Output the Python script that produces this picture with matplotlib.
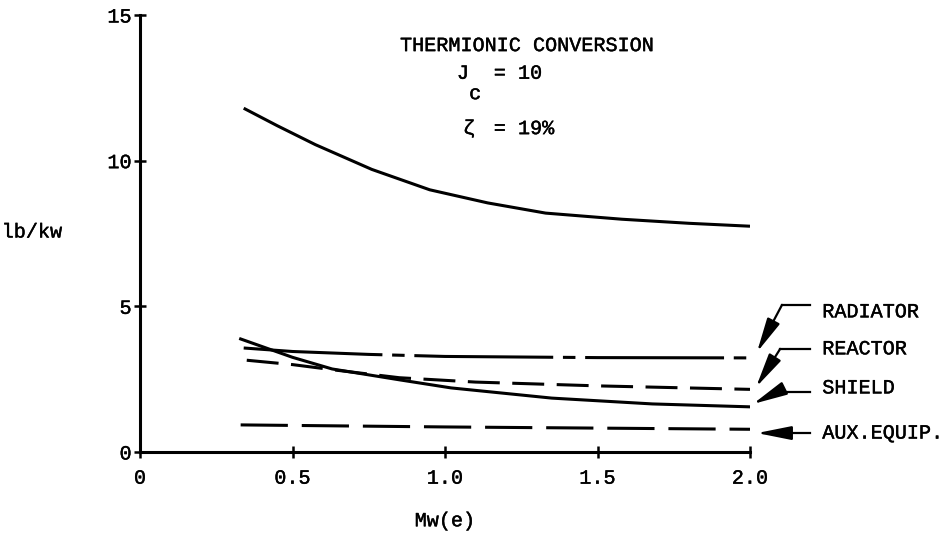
import matplotlib
matplotlib.use("Agg")
import matplotlib.pyplot as plt
import matplotlib.patheffects as pe

plt.rcParams['font.family'] = ['Liberation Mono', 'DejaVu Sans Mono']
plt.rcParams['lines.scale_dashes'] = False

# data (Mw(e) vs lb/kw)
total_x = [0.34, 0.45, 0.575, 0.76, 0.95, 1.14, 1.33, 1.58, 1.8, 2.0]
total_y = [11.8, 11.2, 10.55, 9.7, 9.0, 8.55, 8.2, 7.99, 7.85, 7.75]

radiator_x = [0.34, 0.5, 0.75, 1.0, 1.5, 2.0]
radiator_y = [3.57, 3.45, 3.35, 3.28, 3.24, 3.23]

reactor_x = [0.35, 0.5, 0.65, 0.85, 1.1, 1.5, 2.0]
reactor_y = [3.15, 3.0, 2.8, 2.55, 2.4, 2.27, 2.15]

shield_x = [0.33, 0.5, 0.63, 0.855, 1.02, 1.35, 1.68, 2.0]
shield_y = [3.88, 3.25, 2.85, 2.47, 2.2, 1.85, 1.65, 1.55]

aux_x = [0.33, 1.0, 2.0]
aux_y = [0.93, 0.86, 0.78]

x_ticks = [0, 0.5, 1.0, 1.5, 2.0]
x_labels = ['0', '0.5', '1.0', '1.5', '2.0']
y_ticks = [0, 5, 10, 15]

fs = 14.5
lw = 2.2
ink = [pe.withStroke(linewidth=0.3, foreground='black')]

fig = plt.figure(figsize=(9.5, 5.35), dpi=100)
ax = fig.add_axes([140 / 950, 83 / 535, 610 / 950, 437 / 535])

ax.plot(total_x, total_y, color='black', lw=lw, solid_capstyle='butt')
ax.plot(radiator_x, radiator_y, color='black', lw=lw, dashes=(100, 7, 9, 7))
ax.plot(reactor_x, reactor_y, color='black', lw=lw, dashes=(23, 9))
ax.plot(shield_x, shield_y, color='black', lw=lw)
ax.plot(aux_x, aux_y, color='black', lw=lw, dashes=(34, 10))

ax.set_xlim(0, 2.0)
ax.set_ylim(0, 15)
ax.set_xticks(x_ticks)
ax.set_xticklabels(x_labels)
ax.set_yticks(y_ticks)
for s in ['top', 'right']:
    ax.spines[s].set_visible(False)
for s in ['left', 'bottom']:
    ax.spines[s].set_linewidth(2.2)
ax.tick_params(axis='both', direction='inout', length=8, width=1.8, labelsize=fs)
ax.tick_params(axis='x', pad=8)
ax.tick_params(axis='y', pad=2)
for t in ax.get_xticklabels() + ax.get_yticklabels():
    t.set_path_effects(ink)

ax.set_xlabel('Mw(e)', fontsize=fs, labelpad=17, path_effects=ink)
fig.text(32 / 950, 1 - 232 / 535, 'lb/kw', fontsize=fs, ha='center', va='center',
         path_effects=ink)

# header text
ax.text(1.27, 13.95, 'THERMIONIC CONVERSION', fontsize=fs, ha='center', va='center', path_effects=ink)
ax.text(1.059, 13.0, 'J', fontsize=fs, ha='center', va='center', path_effects=ink)
ax.text(1.099, 12.3, 'c', fontsize=fs, ha='center', va='center', path_effects=ink)
ax.text(1.16, 13.0, '= 10', fontsize=fs, ha='left', va='center', path_effects=ink)
ax.text(1.079, 11.1, 'ζ', fontsize=fs, ha='center', va='center', path_effects=ink)
ax.text(1.16, 11.1, '= 19%', fontsize=fs, ha='left', va='center', path_effects=ink)

# labels with leader arrows: (text, text y, corner, tip)
text_x = 2.237
line_x = 2.197
labels = [
    ('RADIATOR', 4.81, (2.105, 5.05), (2.023, radiator_y[-1] + 0.2)),
    ('REACTOR', 3.54, (2.099, 3.54), (2.02, reactor_y[-1] + 0.08)),
    ('SHIELD', 2.2, (2.089, 2.06), (2.01, shield_y[-1] + 0.1)),
    ('AUX.EQUIP.', 0.65, (2.10, 0.65), (2.023, aux_y[-1] - 0.13)),
]
for name, ty, corner, tip in labels:
    ax.text(text_x, ty, name, fontsize=fs, ha='left', va='center', clip_on=False,
            path_effects=ink)
    ax.plot([line_x, corner[0]], [corner[1], corner[1]], color='black', lw=1.6, clip_on=False)
    ax.annotate('', xy=tip, xytext=corner, annotation_clip=False,
                arrowprops=dict(arrowstyle='-|>,head_length=1.4,head_width=0.28',
                                color='black', lw=1.6, mutation_scale=15,
                                shrinkA=0, shrinkB=0))

plt.savefig('out.png', dpi=100)
